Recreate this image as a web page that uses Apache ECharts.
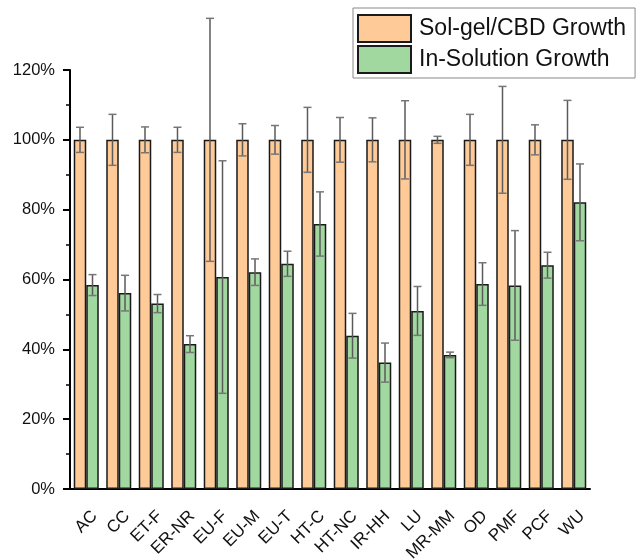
<!DOCTYPE html>
<html>
<head>
<meta charset="utf-8">
<title>Growth comparison</title>
<script src="https://cdn.jsdelivr.net/npm/echarts@6/dist/echarts.min.js"></script>
<style>
  html, body { margin: 0; padding: 0; background: #fff; }
  #chart { width: 637px; height: 560px; }
</style>
</head>
<body>
<div id="chart"></div>
<script>
// data (percent)
const categories = ['AC', 'CC', 'ET-F', 'ER-NR', 'EU-F', 'EU-M', 'EU-T', 'HT-C',
  'HT-NC', 'IR-HH', 'LU', 'MR-MM', 'OD', 'PMF', 'PCF', 'WU']
const solGel = [100, 100, 100, 100, 100, 100, 100, 100, 100, 100, 100, 100, 100, 100, 100, 100]
const solGelErr = [3.6, 7.3, 3.7, 3.6, 34.8, 4.6, 4.1, 9.3, 6.4, 6.3, 11.2, 1.0, 7.3, 15.3, 4.3, 11.3]
const inSolution = [58.4, 56.1, 53.1, 41.5, 60.7, 62.1, 64.5, 75.9, 43.9, 36.2, 51.0, 38.4, 58.7, 58.3, 64.1, 82.1]
const inSolutionErr = [3.0, 5.1, 2.6, 2.4, 33.3, 3.8, 3.6, 9.2, 6.4, 5.6, 7.0, 0.8, 6.1, 15.7, 3.7, 11.0]
const yTicks = [0, 20, 40, 60, 80, 100, 120]

const FONT = 'Liberation Sans, Arial, sans-serif'
const CAT_GAP = 0.23

function errData (vals, errs) {
  return vals.map((v, i) => [i, v - errs[i], v + errs[i]])
}

// side = -1 for left bar of the pair, +1 for right bar
function errRender (side) {
  return function (params, api) {
    let x = api.coord([api.value(0), 0])[0]
    let bw = api.size([1, 0])[0] * (1 - CAT_GAP) / 2
    x += side * bw / 2
    let lo = api.coord([api.value(0), api.value(1)])[1]
    let hi = api.coord([api.value(0), api.value(2)])[1]
    let cap = 4
    let st = { stroke: '#5a5a5a', lineWidth: 1.5 }
    let capSt = { stroke: '#777', lineWidth: 1.5 }
    return {
      type: 'group',
      children: [
        { type: 'line', shape: { x1: x, y1: hi, x2: x, y2: lo }, style: st },
        { type: 'line', shape: { x1: x - cap, y1: hi, x2: x + cap, y2: hi }, style: capSt },
        { type: 'line', shape: { x1: x - cap, y1: lo, x2: x + cap, y2: lo }, style: capSt }
      ]
    }
  }
}

let option = {
  animation: false,
  textStyle: { fontFamily: FONT },
  grid: { left: 70, right: 47, top: 70, bottom: 71, outerBoundsMode: 'none', containLabel: false },
  legend: {
    orient: 'vertical',
    left: 353,
    top: 8,
    padding: [6, 9, 4, 4],
    itemWidth: 53,
    itemHeight: 27,
    itemGap: 2,
    icon: 'rect',
    borderColor: '#888',
    borderWidth: 1,
    backgroundColor: '#fff',
    textStyle: { fontSize: 23, color: '#111', fontFamily: FONT, padding: [0, 0, 0, 3] },
    data: ['Sol-gel/CBD Growth', 'In-Solution Growth']
  },
  xAxis: [
    {
      type: 'category',
      data: categories,
      position: 'bottom',
      axisLine: { lineStyle: { color: '#000', width: 2 } },
      axisTick: { alignWithLabel: true, length: 7, lineStyle: { color: '#000', width: 2 } },
      axisLabel: {
        interval: 0,
        rotate: 45,
        margin: 16,
        align: 'right',
        verticalAlign: 'top',
        lineHeight: 24,
        fontSize: 17,
        color: '#111',
        fontFamily: FONT
      }
    },
    {
      // minor ticks between categories
      type: 'category',
      data: categories,
      position: 'bottom',
      axisLine: { show: false },
      axisTick: { length: 4, lineStyle: { color: '#000', width: 1.5 } },
      axisLabel: { show: false }
    }
  ],
  yAxis: {
    type: 'value',
    min: yTicks[0],
    max: yTicks[yTicks.length - 1],
    interval: 20,
    axisLine: { show: true, lineStyle: { color: '#000', width: 2 } },
    axisTick: { show: true, length: 7, lineStyle: { color: '#000', width: 2 } },
    minorTick: { show: true, splitNumber: 2, length: 4, lineStyle: { color: '#000', width: 1.5 } },
    splitLine: { show: false },
    axisLabel: {
      formatter: '{value}%',
      fontSize: 16.5,
      margin: 15,
      color: '#111',
      fontFamily: FONT
    }
  },
  series: [
    {
      name: 'Sol-gel/CBD Growth',
      type: 'bar',
      data: solGel,
      barGap: '0%',
      barCategoryGap: (CAT_GAP * 100) + '%',
      itemStyle: { color: '#FDCA98', borderColor: '#1a1a1a', borderWidth: 1.5 }
    },
    {
      name: 'In-Solution Growth',
      type: 'bar',
      data: inSolution,
      barGap: '0%',
      barCategoryGap: (CAT_GAP * 100) + '%',
      itemStyle: { color: '#A0D8A0', borderColor: '#1a1a1a', borderWidth: 1.5 }
    },
    {
      type: 'custom',
      renderItem: errRender(-1),
      data: errData(solGel, solGelErr),
      z: 5,
      clip: false,
      encode: { x: 0, y: [1, 2] }
    },
    {
      type: 'custom',
      renderItem: errRender(1),
      data: errData(inSolution, inSolutionErr),
      z: 5,
      clip: false,
      encode: { x: 0, y: [1, 2] }
    }
  ]
}

let chart = echarts.init(document.getElementById('chart'))
chart.setOption(option)
</script>
</body>
</html>
